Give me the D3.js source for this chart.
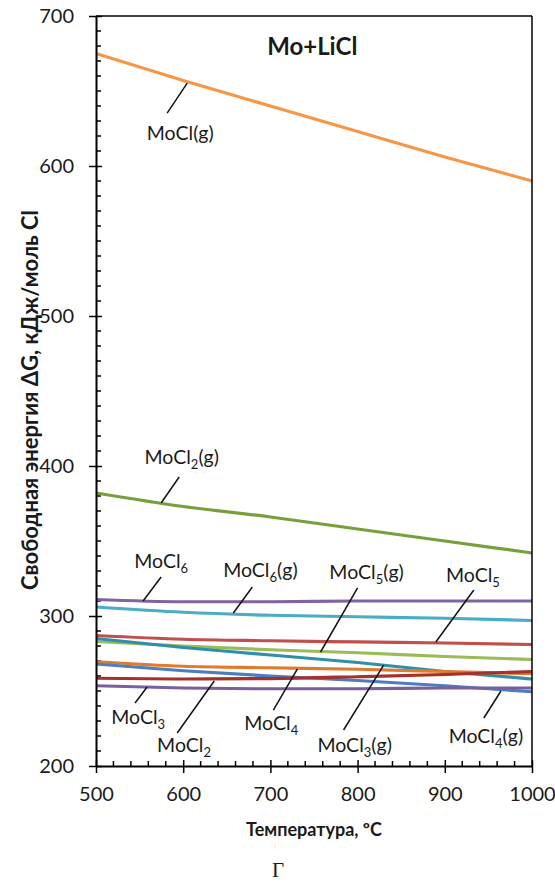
<!DOCTYPE html>
<html>
<head>
<meta charset="utf-8">
<script src="https://cdn.jsdelivr.net/npm/d3@7"></script>
<style>
  html, body { margin: 0; padding: 0; background: #fff; }
  svg { display: block; }
  text { font-family: Lato, "Open Sans", sans-serif; fill: #1a1a1a; }
</style>
</head>
<body>
<svg id="chart" width="555" height="893"></svg>
<script>
// Temperatures, °C
const temps = [500, 600, 700, 800, 900, 1000];

// Free energy ΔG, kJ per mole Cl, for each chloride
const moclG    = [675, 657, 640, 623, 606, 590];
const mocl2G   = [382, 373, 366, 358, 350, 342];
const mocl6    = [311, 309.5, 309.5, 310, 310, 310];
const mocl6G   = [306, 302.5, 300.5, 299.5, 298.5, 297];
const mocl5    = [287, 284.5, 283.5, 282.7, 282, 281];
const mocl5G   = [283, 280, 277.5, 275.5, 273, 271];
const mocl3G   = [285, 279, 274, 269, 263, 258];
const mocl4    = [269.5, 266.5, 265.5, 264.5, 263, 261.5];
const mocl4G   = [268, 263.5, 260, 257, 253.5, 249.5];
const mocl2    = [258.5, 258, 258.3, 259.5, 261, 263];
const mocl3    = [253.5, 252, 251.5, 251.5, 252, 252];

const xTicks = [500, 600, 700, 800, 900, 1000];
const yTicks = [200, 300, 400, 500, 600, 700];

const series = [
  { values: moclG,  color: "#F79646" },
  { values: mocl2G, color: "#77A03C" },
  { values: mocl6,  color: "#8064A2" },
  { values: mocl6G, color: "#4BACC6" },
  { values: mocl5,  color: "#C0504D" },
  { values: mocl5G, color: "#9BBB59" },
  { values: mocl3G, color: "#2E8FA8" },
  { values: mocl4,  color: "#E07B2E" },
  { values: mocl4G, color: "#4A7EC0" },
  { values: mocl2,  color: "#A5302C" },
  { values: mocl3,  color: "#7B5EA0" }
];

// Callouts: label text (base, subscript, tail), label centre and leader ends in data units
const callouts = [
  { base: "MoCl", sub: "",  tail: "(g)", at: [596.6, 622],   from: [581.6, 635.3], to: [604.6, 655.3] },
  { base: "MoCl", sub: "2", tail: "(g)", at: [598.3, 406],   from: [595.4, 392.7], to: [574.7, 375.3] },
  { base: "MoCl", sub: "6", tail: "",    at: [574.7, 336.7], from: [574.7, 326],   to: [554, 310] },
  { base: "MoCl", sub: "6", tail: "(g)", at: [688.5, 330.7], from: [679.3, 319.3], to: [657.5, 302] },
  { base: "MoCl", sub: "5", tail: "(g)", at: [810.3, 329.3], from: [800, 318.7],   to: [757.5, 276] },
  { base: "MoCl", sub: "5", tail: "",    at: [932.2, 327.3], from: [933.3, 317.3], to: [889.7, 282.7] },
  { base: "MoCl", sub: "3", tail: "",    at: [548.3, 233],   from: [544.8, 242],   to: [558.6, 252.7] },
  { base: "MoCl", sub: "2", tail: "",    at: [601, 214],     from: [593.1, 222],   to: [635.6, 256.7] },
  { base: "MoCl", sub: "4", tail: "",    at: [701, 229],     from: [703.4, 237.3], to: [731, 264.7] },
  { base: "MoCl", sub: "3", tail: "(g)", at: [796.6, 214],   from: [783.9, 224],   to: [829.9, 267.3] },
  { base: "MoCl", sub: "4", tail: "(g)", at: [947.1, 220],   from: [944.8, 232],   to: [964.4, 250] }
];

const svg = d3.select("#chart");
const margin = { left: 96, right: 23, top: 16, bottom: 127 };
const W = 555, H = 893;

const x = d3.scaleLinear().domain([500, 1000]).range([margin.left, W - margin.right]);
const y = d3.scaleLinear().domain([200, 700]).range([H - margin.bottom, margin.top]);

const x0 = x.range()[0], x1 = x.range()[1];
const yTop = y.range()[1], yBot = y.range()[0];

// Minor ticks (inside the plot)
const yMinor = d3.range(200, 701, 10).filter(v => v % 100 !== 0);
svg.append("g").selectAll("line").data(yMinor).join("line")
  .attr("x1", x0).attr("x2", x0 + 5)
  .attr("y1", d => y(d)).attr("y2", d => y(d))
  .attr("stroke", "#000").attr("stroke-width", 1.5);

const xMinor = d3.range(500, 1001, 20).filter(v => v % 100 !== 0);
svg.append("g").selectAll("line").data(xMinor).join("line")
  .attr("x1", d => x(d)).attr("x2", d => x(d))
  .attr("y1", yBot).attr("y2", yBot - 5)
  .attr("stroke", "#000").attr("stroke-width", 1.5);

// Data lines
const line = d3.line()
  .x((d, i) => x(temps[i]))
  .y(d => y(d))
  .curve(d3.curveMonotoneX);

svg.append("g").selectAll("path").data(series).join("path")
  .attr("d", d => line(d.values))
  .attr("fill", "none")
  .attr("stroke", d => d.color)
  .attr("stroke-width", 3.2);

// Frame: right and top borders
svg.append("line").attr("x1", x1).attr("x2", x1).attr("y1", yTop).attr("y2", yBot)
  .attr("stroke", "#000").attr("stroke-width", 1.5);
svg.append("line").attr("x1", x0).attr("x2", x1).attr("y1", yTop).attr("y2", yTop)
  .attr("stroke", "#000").attr("stroke-width", 1.5);

// Axes with major ticks crossing the axis line
const yAxis = svg.append("g").attr("transform", `translate(${x0},0)`)
  .call(d3.axisLeft(y).tickValues(yTicks).tickFormat(d3.format("d"))
    .tickSizeInner(7).tickSizeOuter(0).tickPadding(15));
yAxis.selectAll(".tick line").attr("x2", -7).attr("x1", 6).attr("stroke-width", 1.5);
yAxis.select(".domain").attr("stroke-width", 2);
yAxis.selectAll(".tick text").attr("font-size", 20).attr("fill", "#1a1a1a")
  .style("font-family", "Lato, sans-serif");

const xAxis = svg.append("g").attr("transform", `translate(0,${yBot})`)
  .call(d3.axisBottom(x).tickValues(xTicks).tickFormat(d3.format("d"))
    .tickSizeInner(7).tickSizeOuter(0).tickPadding(14));
xAxis.selectAll(".tick line").attr("y1", -6).attr("y2", 7).attr("stroke-width", 1.5);
xAxis.select(".domain").attr("stroke-width", 2);
xAxis.selectAll(".tick text").attr("font-size", 20).attr("fill", "#1a1a1a")
  .style("font-family", "Lato, sans-serif");

// Leaders and callout labels
svg.append("g").selectAll("line").data(callouts).join("line")
  .attr("x1", d => x(d.from[0])).attr("y1", d => y(d.from[1]))
  .attr("x2", d => x(d.to[0])).attr("y2", d => y(d.to[1]))
  .attr("stroke", "#111").attr("stroke-width", 1.5);

const labels = svg.append("g").selectAll("text").data(callouts).join("text")
  .attr("x", d => x(d.at[0])).attr("y", d => y(d.at[1]) + 7)
  .attr("text-anchor", "middle")
  .attr("font-size", 19.5);
labels.append("tspan").text(d => d.base);
labels.filter(d => d.sub).append("tspan")
  .attr("font-size", 13).attr("dy", 5).text(d => d.sub);
labels.filter(d => d.tail).append("tspan")
  .attr("dy", d => d.sub ? -5 : 0).text(d => d.tail);

// Title inside the plot
svg.append("text").attr("x", x(748)).attr("y", y(674))
  .attr("text-anchor", "middle").attr("font-size", 24).attr("font-weight", "bold")
  .text("Mo+LiCl");

// Axis titles
svg.append("text").attr("x", (x0 + x1) / 2).attr("y", yBot + 70)
  .attr("text-anchor", "middle").attr("font-size", 18).attr("font-weight", "bold")
  .text("Температура, ºС");

svg.append("text")
  .attr("transform", `translate(30,400) rotate(-90)`)
  .attr("text-anchor", "middle").attr("font-size", 22).attr("font-weight", "bold")
  .attr("dy", "0.35em")
  .text("Свободная энергия ΔG, кДж/моль  Cl");

// Panel letter
svg.append("text").attr("x", 278).attr("y", 877)
  .attr("text-anchor", "middle").attr("font-size", 21)
  .style("font-family", "'Liberation Serif', 'DejaVu Serif', serif")
  .text("Г");
</script>
</body>
</html>
